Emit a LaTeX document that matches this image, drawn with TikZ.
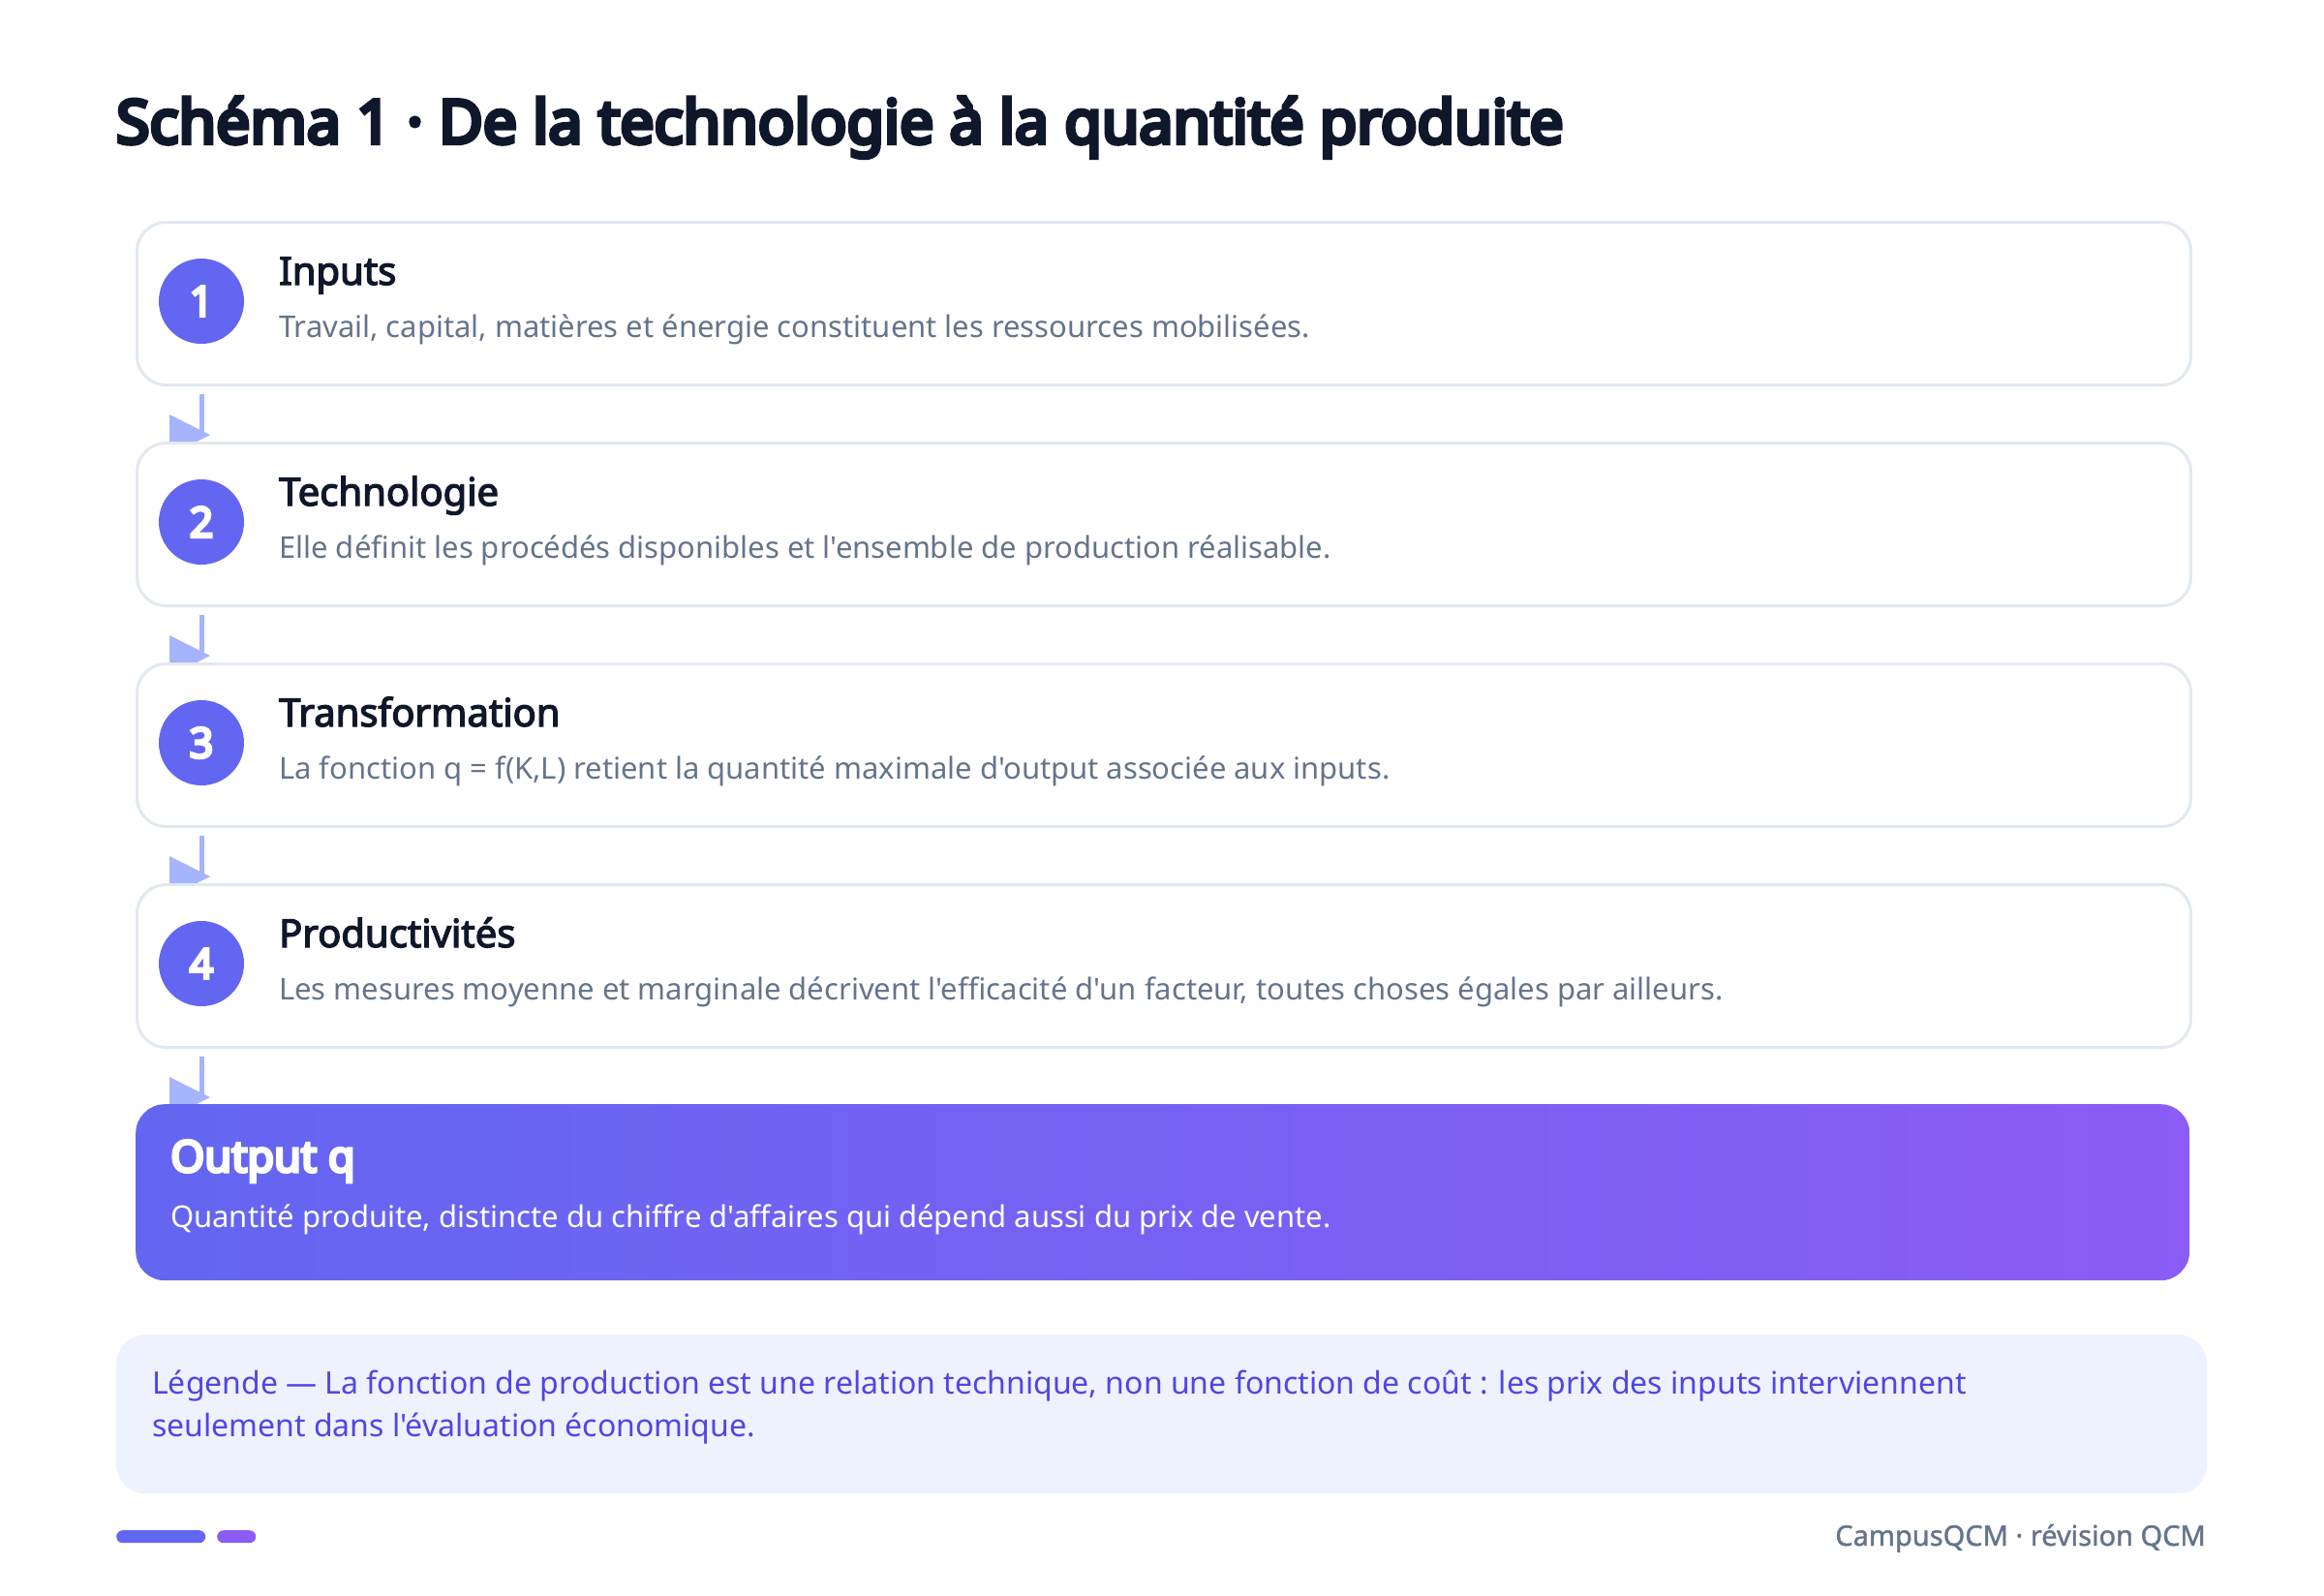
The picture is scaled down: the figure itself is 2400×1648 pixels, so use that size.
\documentclass[tikz,border=0pt]{standalone}
\usepackage{fontspec}
\newif\ifrealbold
\IfFontExistsTF{NotoSans-Bold.ttf}{\realboldtrue}{\realboldfalse}
\ifrealbold
  \setmainfont{NotoSans}[Extension=.ttf,UprightFont=*-Regular,BoldFont=*-Bold,
    BoldFeatures={FakeBold=1.2},Ligatures=TeXOff]
  \IfFontExistsTF{NotoSans-Black.ttf}{%
    \newfontfamily\heavyfont{NotoSans}[Extension=.ttf,UprightFont=*-Black,BoldFont=*-Black,Ligatures=TeXOff]}{%
    \newfontfamily\heavyfont{NotoSans}[Extension=.ttf,UprightFont=*-Bold,BoldFont=*-Bold,
      UprightFeatures={FakeBold=4},BoldFeatures={FakeBold=4},Ligatures=TeXOff]}
  \newfontfamily\semifont{NotoSans}[Extension=.ttf,UprightFont=*-Regular,BoldFont=*-Regular,
    UprightFeatures={FakeBold=1.3},Ligatures=TeXOff]
\else
  \setmainfont{Noto Sans}[AutoFakeBold=3.2,Ligatures=TeXOff]
  \newfontfamily\heavyfont{Noto Sans}[AutoFakeBold=7,Ligatures=TeXOff]
  \newfontfamily\semifont{Noto Sans}[FakeBold=1.3,Ligatures=TeXOff]
\fi
\usetikzlibrary{calc}
\pgfdeclarelayer{background}
\pgfsetlayers{background,main}
\definecolor{ink}{HTML}{0F172A}
\definecolor{muted}{HTML}{64748B}
\definecolor{indigo}{HTML}{6366F1}
\definecolor{violet}{HTML}{8B5CF6}
\definecolor{cardline}{HTML}{E2E8F0}
\definecolor{arrowc}{HTML}{A5B4FC}
\definecolor{legbg}{HTML}{EEF2FF}
\definecolor{legtext}{HTML}{4F46E5}
\tikzset{
  card/.style={draw=cardline, line width=3pt, fill=white, rounded corners=30pt,
    minimum width=2121pt, minimum height=168pt, anchor=north west, inner sep=0pt},
  numcirc/.style={circle, fill=indigo, minimum size=88pt, inner sep=0pt,
    text=white, font=\heavyfont\bfseries\fontsize{43}{43}\selectfont},
  steptitle/.style={anchor=base west, inner sep=0pt, text=ink,
    font=\bfseries\fontsize{40}{40}\selectfont},
  stepdesc/.style={anchor=base west, inner sep=0pt, text=muted,
    font=\fontsize{31}{31}\selectfont},
  conn/.style={draw=arrowc, line width=5pt},
  connhead/.style={fill=arrowc},
}
\begin{document}
\begin{tikzpicture}[x=1pt,y=-1pt]
\useasboundingbox (0,0) rectangle (2400,1648);
\begin{pgfonlayer}{background}
\fill[white] (0,0) rectangle (2400,1648);
\end{pgfonlayer}
% title
\node[anchor=base west, inner sep=0pt, text=ink, font=\heavyfont\bfseries\fontsize{62.5}{62.5}\selectfont] (title) at (120,148)
  {Schéma 1 · De la technologie à la quantité produite};
% cards
\node[card] (b1) at (140,228) {};
\node[card] (b2) at (140,456) {};
\node[card] (b3) at (140,684) {};
\node[card] (b4) at (140,912) {};
\node[numcirc] (c1) at (208,311) {1};
\node[numcirc] (c2) at (208,539) {2};
\node[numcirc] (c3) at (208,767) {3};
\node[numcirc] (c4) at (208,995) {4};
\node[steptitle] (t1) at (288,294) {Inputs};
\node[stepdesc] (d1) at (288,348) {Travail, capital, matières et énergie constituent les ressources mobilisées.};
\node[steptitle] (t2) at (288,522) {Technologie};
\node[stepdesc] (d2) at (288,576) {Elle définit les procédés disponibles et l'ensemble de production réalisable.};
\node[steptitle] (t3) at (288,750) {Transformation};
\node[stepdesc] (d3) at (288,804) {La fonction q = f(K,L) retient la quantité maximale d'output associée aux inputs.};
\node[steptitle] (t4) at (288,978) {Productivités};
\node[stepdesc] (d4) at (288,1032) {Les mesures moyenne et marginale décrivent l'efficacité d'un facteur, toutes choses égales par ailleurs.};
% output
\node[anchor=north west, inner sep=0pt, rounded corners=30pt, left color=indigo, right color=violet,
  minimum width=2121pt, minimum height=182pt] (out) at (140,1140) {};
\node[anchor=base west, inner sep=0pt, text=white, font=\heavyfont\bfseries\fontsize{45}{45}\selectfont] (outt) at (176,1210) {Output q};
\node[anchor=base west, inner sep=0pt, text=white, font=\fontsize{31}{31}\selectfont] (outd) at (176,1267) {Quantité produite, distincte du chiffre d'affaires qui dépend aussi du prix de vente.};
% connectors
\begin{pgfonlayer}{background}
\foreach \a/\b in {b1/b2,b2/b3,b3/b4,b4/out}{
  \draw[conn] ($(\a.south -| c1)+(0,8)$) -- ($(\b.north -| c1)+(0,-8)$);
  \fill[connhead] ($(\b.north -| c1)+(-33,-28)$) -- ($(\b.north -| c1)+(9,-7)$) -- ($(\b.north -| c1)+(-33,14)$) -- cycle;
}
\end{pgfonlayer}
% legend
\node[anchor=north west, inner sep=0pt, fill=legbg, rounded corners=30pt, minimum width=2159pt, minimum height=164pt] (leg) at (120,1378) {};
\node[anchor=base west, inner sep=0pt, text=legtext, font=\fontsize{32}{32}\selectfont] (leg1) at (157,1439) {Légende — La fonction de production est une relation technique, non une fonction de coût : les prix des inputs interviennent};
\node[anchor=base west, inner sep=0pt, text=legtext, font=\fontsize{32}{32}\selectfont] (leg2) at (157,1483) {seulement dans l'évaluation économique.};
% footer
\node[anchor=north west, inner sep=0pt, fill=indigo, rounded corners=6.5pt, minimum width=92pt, minimum height=13pt] (pill1) at (120,1580) {};
\node[anchor=north west, inner sep=0pt, fill=violet, rounded corners=6.5pt, minimum width=40pt, minimum height=13pt] (pill2) at (224,1580) {};
\node[anchor=base east, inner sep=0pt, text=muted, font=\semifont\fontsize{29}{29}\selectfont] (foot) at (2278,1596) {CampusQCM · révision QCM};
\end{tikzpicture}
\end{document}
